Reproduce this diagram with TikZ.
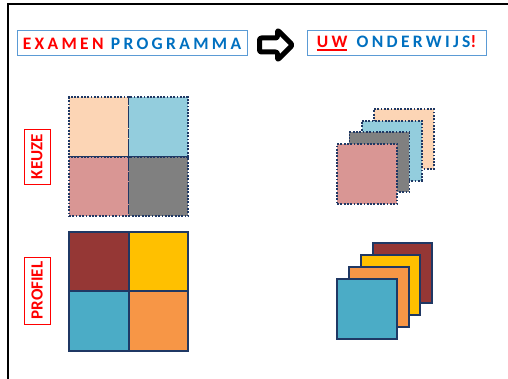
\documentclass[tikz,border=0pt]{standalone}
\usepackage{fontspec}
\setmainfont{Carlito}
\newfontfamily\spacedfont[LetterSpace=19]{Carlito}
\usetikzlibrary{positioning,shapes.arrows}
\definecolor{exred}{HTML}{FF0000}
\definecolor{exblue}{HTML}{0070C0}
\definecolor{boxblue}{HTML}{5B9BD5}
\definecolor{navy}{HTML}{1F3864}
\definecolor{peach}{HTML}{FCD5B5}
\definecolor{skyblue}{HTML}{93CDDD}
\definecolor{rosy}{HTML}{D99694}
\definecolor{midgray}{HTML}{808080}
\definecolor{darkred}{HTML}{953735}
\definecolor{gold}{HTML}{FFC000}
\definecolor{teal}{HTML}{4BACC6}
\definecolor{tangerine}{HTML}{F79646}
\newcommand\thickul[1]{\setbox0\hbox{#1}\rlap{\raisebox{-3.5pt}{\rule{\wd0}{1.8pt}}}\box0}
\tikzset{
  ttlbox/.style={draw=boxblue,line width=1pt,minimum height=25pt,inner sep=0pt,
    font=\spacedfont\bfseries\fontsize{17.5}{17.5}\selectfont},
  lblbox/.style={draw=exred,line width=0.8pt,rotate=90,minimum height=26pt,inner sep=0pt,
    text=exred,font=\bfseries\fontsize{17}{17}\selectfont},
  sq/.style={minimum size=59.5pt,inner sep=0pt,outer sep=0pt},
  kzsq/.style={sq,draw=navy,line width=1.8pt,dash pattern=on 1.8pt off 1.5pt},
  pfsq/.style={sq,draw=navy,line width=2pt},
  bigarrow/.style={single arrow,draw=black,fill=white,line width=5pt,line join=round,
    rounded corners=2pt,minimum height=33pt,minimum width=26pt,
    single arrow head extend=8pt,inner sep=4.5pt}
}
\begin{document}
\begin{tikzpicture}[x=1pt,y=-1pt]
  \useasboundingbox (0,0) rectangle (508,379);
  \draw[line width=2.5pt] (508,4) -- (7.8,4) -- (7.8,379);

  % titles
  \node[ttlbox,minimum width=230pt] (exam) at (132,43.5)
    {{\color{exred}EXAMEN} {\color{exblue}PROGRAMMA}};
  \node[bigarrow] (arw) at (272.5,45) {};
  \node[ttlbox,minimum width=179pt] (uw) at (396.5,43.5)
    {{\color{exred}\thickul{UW}}\hspace{2pt} {\color{exblue}ONDERWIJS}{\color{exred}!}};

  % labels
  \node[lblbox,minimum width=55pt] (keuze) at (37,156.5) {KEUZE};
  \node[lblbox,minimum width=67pt] (profiel) at (37,290.5) {PROFIEL};

  % keuze grid
  \node[kzsq,fill=peach] (k11) at (98.75,127) {};
  \node[kzsq,fill=skyblue,right=0pt of k11] (k12) {};
  \node[kzsq,fill=rosy,below=0pt of k11] (k21) {};
  \node[kzsq,fill=midgray,right=0pt of k21] (k22) {};

  % profiel grid
  \node[pfsq,fill=darkred] (p11) at (98.75,261.5) {};
  \node[pfsq,fill=gold,right=0pt of p11] (p12) {};
  \node[pfsq,fill=teal,below=0pt of p11] (p21) {};
  \node[pfsq,fill=tangerine,right=0pt of p21] (p22) {};

  % stacks
  \foreach \c [count=\i] in {peach,skyblue,midgray,rosy}
    \node[kzsq,minimum size=60pt,fill=\c] (ks\i) at ({404-12.3*(\i-1)},{139+11.7*(\i-1)}) {};
  \foreach \c [count=\i] in {darkred,gold,tangerine,teal}
    \node[pfsq,minimum size=59.5pt,fill=\c] (ps\i) at ({402.5-11.8*(\i-1)},{273+12*(\i-1)}) {};
\end{tikzpicture}
\end{document}
